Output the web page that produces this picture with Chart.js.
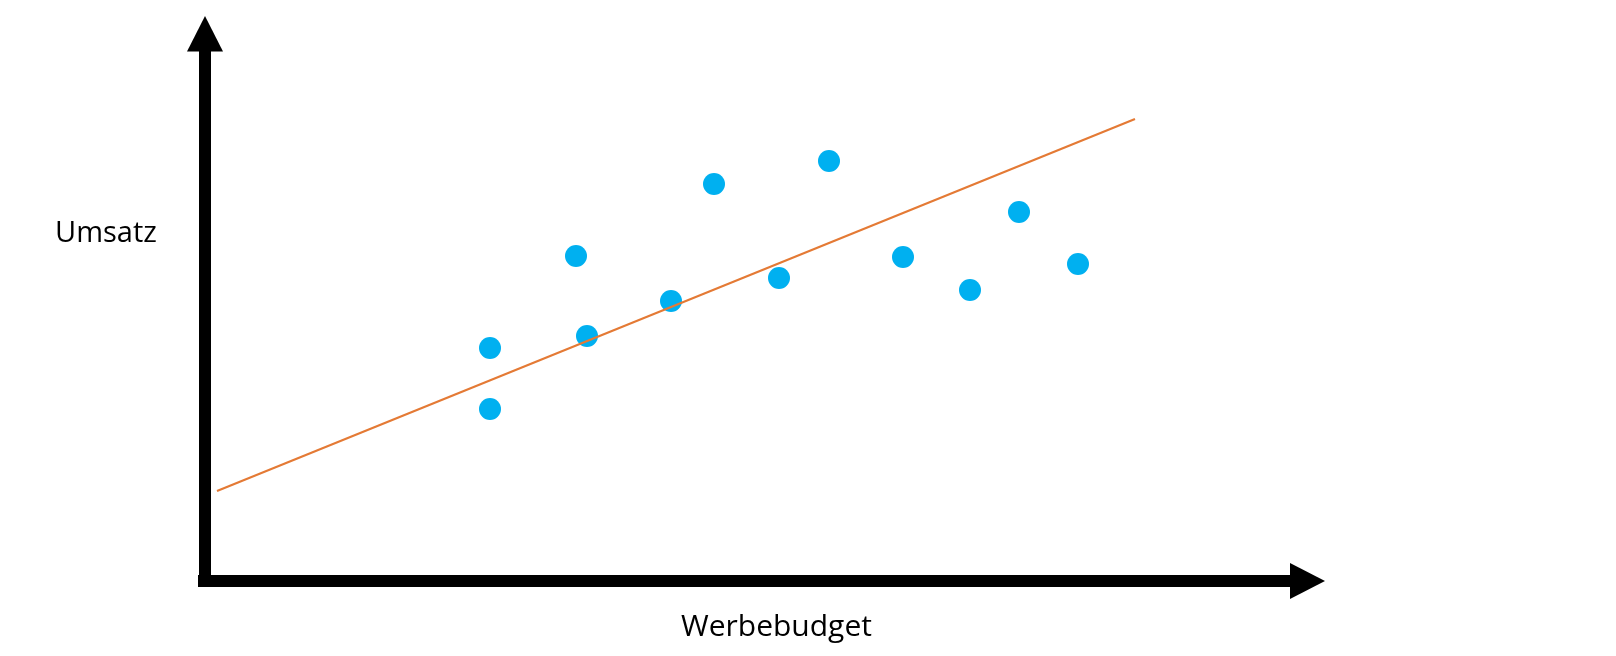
<!DOCTYPE html>
<html>
<head>
<meta charset="utf-8">
<title>Umsatz vs Werbebudget</title>
<script src="https://cdn.jsdelivr.net/npm/chart.js@4.4.1/dist/chart.umd.min.js"></script>
<style>
  html, body { margin: 0; padding: 0; background: #fff; }
  #wrap { position: relative; width: 1616px; height: 656px; overflow: hidden; }
  canvas { position: absolute; left: 0; top: 0; }
  .lbl { position: absolute; font-family: "Open Sans", sans-serif; color: #000; white-space: nowrap; line-height: 1; }
  #yLabel { left: 55px; top: 216px; font-size: 29px; }
  #xLabel { left: 681px; top: 610px; font-size: 30px; }
</style>
</head>
<body>
<div id="wrap">
  <canvas id="chart" width="1616" height="656"></canvas>
  <div class="lbl" id="yLabel">Umsatz</div>
  <div class="lbl" id="xLabel">Werbebudget</div>
</div>
<script>
// Werbebudget (x) and Umsatz (y) for each observation
const budget = [28.5, 28.5, 37.1, 38.2, 46.6, 50.9, 57.4, 62.4, 69.8, 76.5, 81.4, 87.3]
const umsatz = [23.3, 17.2, 32.5, 24.5, 28.0, 39.7, 30.3, 42.0, 32.4, 29.1, 36.9, 31.7]

// regression line end points
const trendX = [1.2, 93.0]
const trendY = [9.0, 46.2]

// where the axis arrows end (tips), in data units
const axisTipX = 112
const axisTipY = 56.5

const points = budget.map((x, i) => ({ x: x, y: umsatz[i] }))
const trend = trendX.map((x, i) => ({ x: x, y: trendY[i] }))

// draws the two black arrows through the origin
const arrowAxes = {
  id: 'arrowAxes',
  beforeDatasetsDraw(chart) {
    const ctx = chart.ctx
    const xs = chart.scales.x
    const ys = chart.scales.y
    const ox = xs.getPixelForValue(0)
    const oy = ys.getPixelForValue(0)
    const tipX = xs.getPixelForValue(axisTipX)
    const tipY = ys.getPixelForValue(axisTipY)
    const half = 6      // half the shaft thickness
    const headLen = 35
    const headHalf = 18

    ctx.save()
    ctx.fillStyle = '#000'
    // horizontal shaft + head
    ctx.fillRect(ox - half - 1, oy - half, tipX - headLen - (ox - half - 1), half * 2)
    ctx.beginPath()
    ctx.moveTo(tipX - headLen, oy - headHalf)
    ctx.lineTo(tipX, oy)
    ctx.lineTo(tipX - headLen, oy + headHalf)
    ctx.closePath()
    ctx.fill()
    // vertical shaft + head
    ctx.fillRect(ox - half, tipY + headLen, half * 2, oy + half - (tipY + headLen))
    ctx.beginPath()
    ctx.moveTo(ox - headHalf, tipY + headLen + 0.5)
    ctx.lineTo(ox, tipY)
    ctx.lineTo(ox + headHalf, tipY + headLen + 0.5)
    ctx.closePath()
    ctx.fill()
    ctx.restore()
  }
}

new Chart(document.getElementById('chart'), {
  type: 'scatter',
  data: {
    datasets: [
      {
        label: 'Trend',
        data: trend,
        showLine: true,
        borderColor: '#E47A35',
        borderWidth: 2.2,
        pointRadius: 0,
        pointHoverRadius: 0,
        clip: false,
        order: 0
      },
      {
        label: 'Beobachtungen',
        data: points,
        backgroundColor: '#00B0F0',
        borderWidth: 0,
        pointRadius: 11,
        pointHoverRadius: 11,
        clip: false,
        order: 1
      }
    ]
  },
  options: {
    responsive: false,
    animation: false,
    layout: { padding: 0, autoPadding: false },
    plugins: {
      legend: { display: false },
      tooltip: { enabled: false }
    },
    scales: {
      x: { type: 'linear', display: false, min: -20.5, max: 141.1 },
      y: { type: 'linear', display: false, min: -7.5, max: 58.1 }
    }
  },
  plugins: [arrowAxes]
})
</script>
</body>
</html>
